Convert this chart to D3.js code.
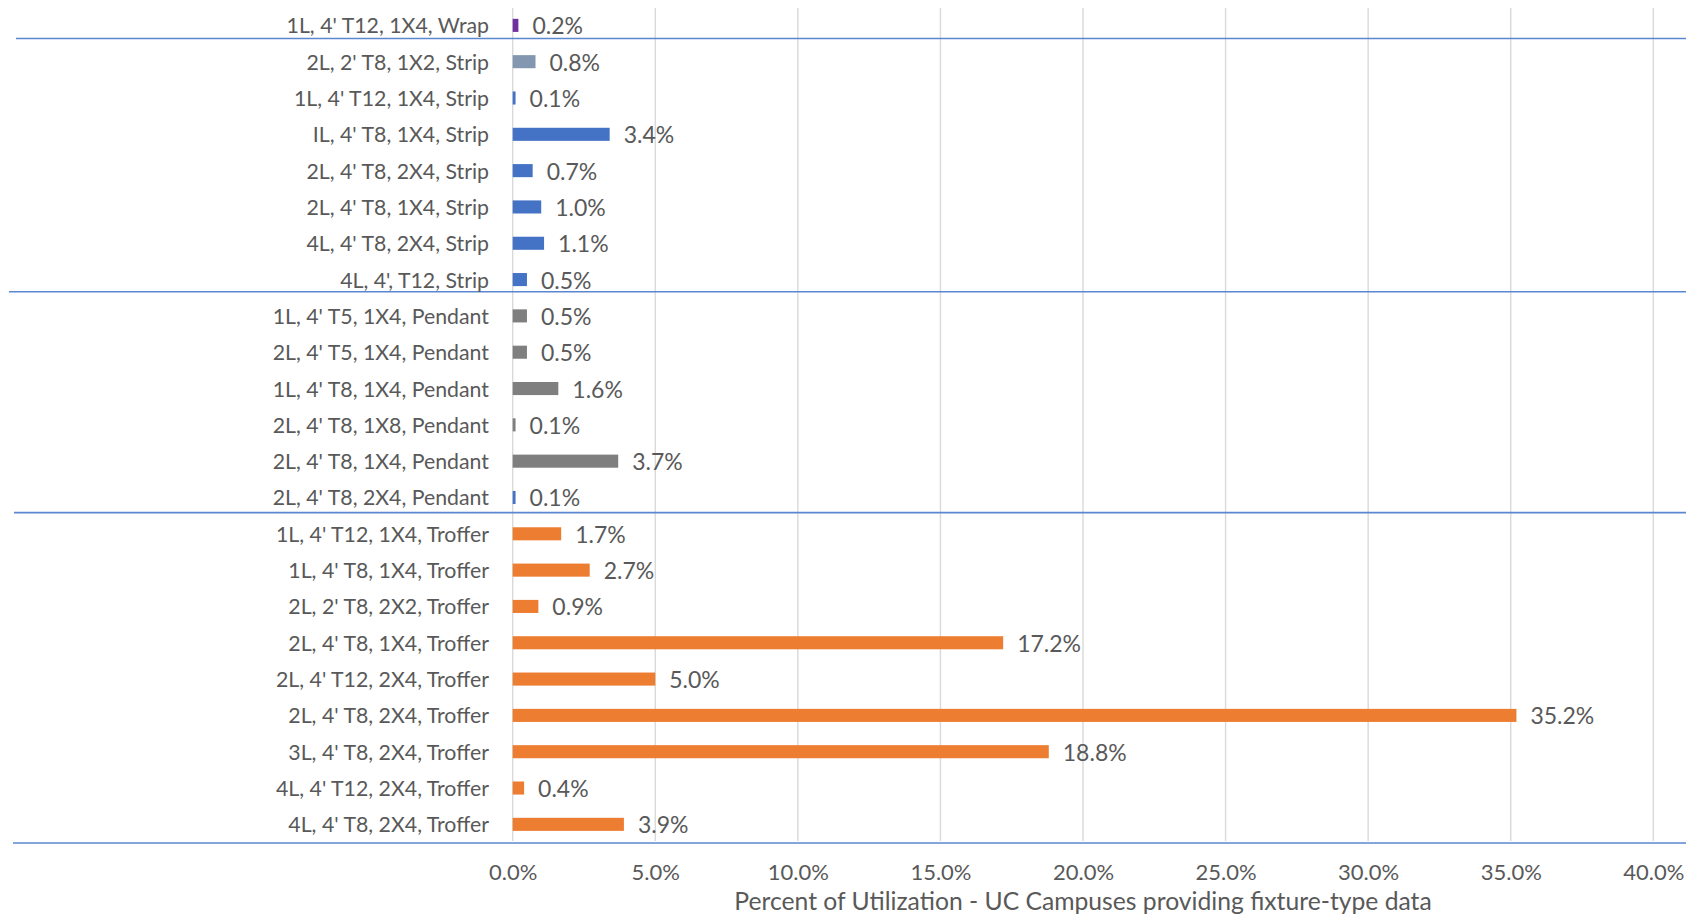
<!DOCTYPE html>
<html>
<head>
<meta charset="utf-8">
<script src="https://cdn.jsdelivr.net/npm/d3@7"></script>
<style>
  body { margin: 0; background: #fff; }
  text { font-family: Lato, "Open Sans", sans-serif; fill: #595959; }
</style>
</head>
<body>
<svg id="chart" width="1686" height="915"></svg>
<script>
// fixture types, top to bottom
var categories = [
    "1L, 4' T12, 1X4, Wrap",
    "2L, 2' T8, 1X2, Strip",
    "1L, 4' T12, 1X4, Strip",
    "IL, 4' T8, 1X4, Strip",
    "2L, 4' T8, 2X4, Strip",
    "2L, 4' T8, 1X4, Strip",
    "4L, 4' T8, 2X4, Strip",
    "4L, 4', T12, Strip",
    "1L, 4' T5, 1X4, Pendant",
    "2L, 4' T5, 1X4, Pendant",
    "1L, 4' T8, 1X4, Pendant",
    "2L, 4' T8, 1X8, Pendant",
    "2L, 4' T8, 1X4, Pendant",
    "2L, 4' T8, 2X4, Pendant",
    "1L, 4' T12, 1X4, Troffer",
    "1L, 4' T8, 1X4, Troffer",
    "2L, 2' T8, 2X2, Troffer",
    "2L, 4' T8, 1X4, Troffer",
    "2L, 4' T12, 2X4, Troffer",
    "2L, 4' T8, 2X4, Troffer",
    "3L, 4' T8, 2X4, Troffer",
    "4L, 4' T12, 2X4, Troffer",
    "4L, 4' T8, 2X4, Troffer"
];

var values = [
    0.002,
    0.008, 0.001, 0.034, 0.007, 0.010, 0.011, 0.005,
    0.005, 0.005, 0.016, 0.001, 0.037, 0.001,
    0.017, 0.027, 0.009, 0.172, 0.050, 0.352, 0.188, 0.004, 0.039
];

// group sizes (Wrap, Strip, Pendant, Troffer)
var groupNames = ["Wrap", "Strip", "Pendant", "Troffer"];
var groupSizes = [1, 7, 6, 9];

var tickValues = [0, 0.05, 0.10, 0.15, 0.20, 0.25, 0.30, 0.35, 0.40];
var axisTitle = "Percent of Utilization - UC Campuses providing fixture-type data";

// colours per bar
var barColors = [
    "#7030A0",
    "#8497B0", "#4472C4", "#4472C4", "#4472C4", "#4472C4", "#4472C4", "#4472C4",
    "#7F7F7F", "#7F7F7F", "#7F7F7F", "#7F7F7F", "#7F7F7F", "#4472C4",
    "#ED7D31", "#ED7D31", "#ED7D31", "#ED7D31", "#ED7D31", "#ED7D31", "#ED7D31", "#ED7D31", "#ED7D31"
];

var svg = d3.select("#chart");

var x = d3.scaleLinear().domain([0, 0.40]).range([512.7, 1653.3]);
var y = d3.scaleBand().domain(categories).range([7.2, 842.5]).paddingInner(0.64).paddingOuter(0.32);

var fmt = d3.format(".1%");
var plotTop = 8, plotBottom = 841;

// vertical gridlines
svg.append("g").attr("class", "grid")
    .selectAll("line")
    .data(tickValues)
    .enter()
    .append("line")
    .attr("x1", function(d) { return x(d); })
    .attr("x2", function(d) { return x(d); })
    .attr("y1", plotTop)
    .attr("y2", plotBottom)
    .style("stroke", "#D9D9D9")
    .style("stroke-width", 1.4);

// group separator lines (multi-level category axis)
var step = y.step();
var sepNudge = [5, 6, 3, 0];
var sepStart = [16, 9, 14, 13];
var sepData = [];
var idx = 0;
groupSizes.forEach(function(n, i) {
    idx += n;
    var yy = idx < categories.length
        ? y(categories[idx]) - (step - y.bandwidth()) / 2 - sepNudge[i]
        : 843;
    sepData.push({ y: yy, x0: sepStart[i] });
});

svg.append("g").attr("class", "separators")
    .selectAll("line")
    .data(sepData)
    .enter()
    .append("line")
    .attr("x1", function(d) { return d.x0; })
    .attr("x2", 1686)
    .attr("y1", function(d) { return d.y; })
    .attr("y2", function(d) { return d.y; })
    .style("stroke", "#5B86D0")
    .style("stroke-width", 1.6);

// bars
svg.append("g").attr("class", "bars")
    .selectAll("rect")
    .data(values)
    .enter()
    .append("rect")
    .attr("x", x(0))
    .attr("y", function(d, i) { return y(categories[i]); })
    .attr("width", function(d) { return x(d) - x(0); })
    .attr("height", y.bandwidth())
    .style("fill", function(d, i) { return barColors[i]; });

// value labels
svg.append("g").attr("class", "valueLabels")
    .selectAll("text")
    .data(values)
    .enter()
    .append("text")
    .attr("x", function(d) { return x(d) + 14; })
    .attr("y", function(d, i) { return y(categories[i]) + y.bandwidth() / 2; })
    .attr("dominant-baseline", "central")
    .style("font-size", "23px")
    .text(function(d) { return fmt(d); });

// category labels
svg.append("g").attr("class", "catLabels")
    .selectAll("text")
    .data(categories)
    .enter()
    .append("text")
    .attr("x", 489)
    .attr("y", function(d) { return y(d) + y.bandwidth() / 2; })
    .attr("text-anchor", "end")
    .attr("dominant-baseline", "central")
    .style("font-size", "21.3px")
    .text(function(d) { return d; });

// x axis
var xAxis = d3.axisBottom(x).tickValues(tickValues).tickFormat(fmt).tickSize(0).tickPadding(0);
var axisG = svg.append("g").attr("class", "xAxis")
    .attr("transform", "translate(0," + 871 + ")")
    .call(xAxis);
axisG.select(".domain").remove();
axisG.selectAll("text")
    .attr("dy", null)
    .attr("y", 0)
    .attr("dominant-baseline", "central")
    .style("font-size", "22px")
    .style("fill", "#595959")
    .style("font-family", "Lato, 'Open Sans', sans-serif");

// axis title
svg.append("text")
    .attr("x", (x.range()[0] + x.range()[1]) / 2)
    .attr("y", 900)
    .attr("text-anchor", "middle")
    .attr("dominant-baseline", "central")
    .style("font-size", "24.7px")
    .text(axisTitle);
</script>
</body>
</html>
